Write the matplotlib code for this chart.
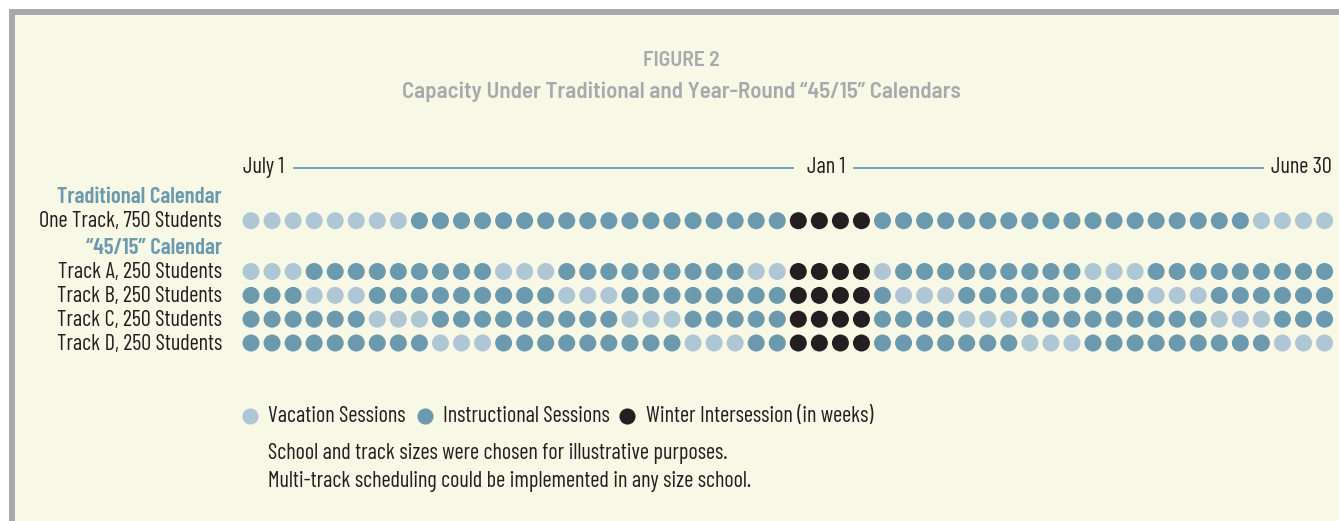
import matplotlib
matplotlib.use("Agg")
import matplotlib.pyplot as plt
from matplotlib.patches import Rectangle

# ---------------- data ----------------
# one code per week, July 1 -> June 30 (52 weeks)
# v = vacation, i = instructional, w = winter intersession
row_labels = ["One Track, 750 Students", "Track A, 250 Students", "Track B, 250 Students",
              "Track C, 250 Students", "Track D, 250 Students"]
group_labels = ["Traditional Calendar", "\u201c45/15\u201d Calendar"]
traditional = "vvvvvvvv" + "i" * 18 + "wwww" + "i" * 18 + "vvvv"
track_a = "vvv" + "i" * 9 + "vvv" + "i" * 9 + "vv" + "wwww" + "v" + "i" * 9 + "vvv" + "i" * 9
track_b = "iii" + "vvv" + "i" * 9 + "vvv" + "i" * 8 + "wwww" + "i" + "vvv" + "i" * 9 + "vvv" + "i" * 6
track_c = "i" * 6 + "vvv" + "i" * 9 + "vvv" + "i" * 5 + "wwww" + "i" * 4 + "vvv" + "i" * 9 + "vvv" + "iii"
track_d = "i" * 9 + "vvv" + "i" * 9 + "vvv" + "ii" + "wwww" + "i" * 7 + "vvv" + "i" * 9 + "vvv"
rows = [traditional, track_a, track_b, track_c, track_d]
timeline_labels = ["July 1", "Jan 1", "June 30"]
legend_labels = ["Vacation Sessions", "Instructional Sessions", "Winter Intersession (in weeks)"]
notes = ["School and track sizes were chosen for illustrative purposes.",
         "Multi-track scheduling could be implemented in any size school."]

# ---------------- style ----------------
BG = "#F8F8E7"
FRAME = "#A7A9AC"
LIGHT = "#AFC7D5"
DARK = "#6B99AD"
BLACK = "#231F20"
TITLE = "#A7A9AC"
colors = {"v": LIGHT, "i": DARK, "w": BLACK}
plt.rcParams["font.family"] = ["Barlow Condensed", "DejaVu Sans"]
TITLE_FONT = ["Barlow Semi Condensed", "Barlow Condensed", "DejaVu Sans"]

W, H = 1339, 521
fig = plt.figure(figsize=(W / 100, H / 100), dpi=100)
fig.patch.set_facecolor("white")
ax = fig.add_axes([0, 0, 1, 1])
ax.set_xlim(0, W)
ax.set_ylim(H, 0)
ax.axis("off")

# frame
ax.add_patch(Rectangle((9, 9), W, H, facecolor=FRAME, edgecolor="none"))
ax.add_patch(Rectangle((14.5, 14.5), W, H, facecolor=BG, edgecolor="none"))

FS = 16
ax.text(681, 61, "FIGURE 2", ha="center", va="center", color=TITLE, fontsize=15.5,
        fontweight="semibold", family=TITLE_FONT)
ax.text(681, 92, "Capacity Under Traditional and Year-Round \u201c45/15\u201d Calendars", ha="center",
        va="center", color=TITLE, fontsize=16.5, fontweight="semibold", family=TITLE_FONT)

# timeline
ty = 167.5
ax.text(243, ty, timeline_labels[0], ha="left", va="center", fontsize=FS, color=BLACK)
ax.text(826, ty, timeline_labels[1], ha="center", va="center", fontsize=FS, color=BLACK)
ax.text(1332, ty, timeline_labels[2], ha="right", va="center", fontsize=FS, color=BLACK)
ax.plot([294, 793], [ty, ty], color=DARK, lw=1.3)
ax.plot([854, 1263], [ty, ty], color=DARK, lw=1.3)

# dots
x0, step = 251.0, 21.05
row_y = [220.7, 271.5, 295.4, 319.2, 343.0]
for codes, y in zip(rows, row_y):
    xs = [x0 + k * step for k in range(len(codes))]
    ax.scatter(xs, [y] * len(codes), s=150, c=[colors[c] for c in codes], linewidths=0, zorder=3)

# row labels
lx = 222
ax.text(lx, 196.7, group_labels[0], ha="right", va="center", color=DARK, fontsize=16.5, fontweight="semibold")
ax.text(lx, 248.5, group_labels[1], ha="right", va="center", color=DARK, fontsize=16.5, fontweight="semibold")
for lab, y in zip(row_labels, row_y):
    ax.text(lx, y + 1, lab, ha="right", va="center", color=BLACK, fontsize=FS)

# legend
ly = 416
for (dx, tx), lab, col in zip([(250, 268), (425, 443), (627, 646)], legend_labels, [LIGHT, DARK, BLACK]):
    ax.scatter([dx], [ly], s=135, c=col, linewidths=0, zorder=3)
    ax.text(tx, ly, lab, ha="left", va="center", fontsize=FS, color=BLACK)

ax.text(268, 453, notes[0], ha="left", va="center", fontsize=FS, color=BLACK)
ax.text(268, 481, notes[1], ha="left", va="center", fontsize=FS, color=BLACK)

fig.savefig("out.png", dpi=100, facecolor=fig.get_facecolor())
